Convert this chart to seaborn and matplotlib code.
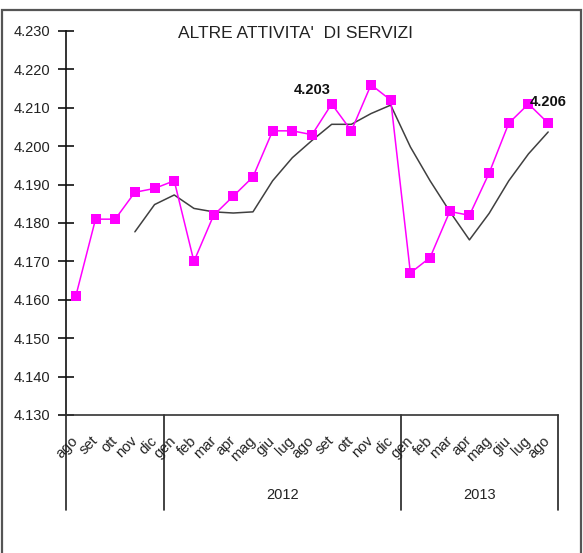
import matplotlib
matplotlib.use("Agg")
import matplotlib.pyplot as plt
import seaborn as sns
import pandas as pd
import numpy as np
from matplotlib.patches import Rectangle

months = ["ago", "set", "ott", "nov", "dic",
          "gen", "feb", "mar", "apr", "mag", "giu", "lug", "ago", "set", "ott", "nov", "dic",
          "gen", "feb", "mar", "apr", "mag", "giu", "lug", "ago"]
monthly = [4.161, 4.181, 4.181, 4.188, 4.189,
           4.191, 4.170, 4.182, 4.187, 4.192, 4.204, 4.204, 4.203, 4.211, 4.204, 4.216, 4.212,
           4.167, 4.171, 4.183, 4.182, 4.193, 4.206, 4.211, 4.206]
trend = [None, None, None, 4.1777, 4.1848,
         4.1873, 4.1838, 4.1829, 4.1826, 4.1829, 4.1910, 4.1970, 4.2015, 4.2057, 4.2057, 4.2085, 4.2107,
         4.1998, 4.1910, 4.1830, 4.1756, 4.1825, 4.1910, 4.1980, 4.2037]
years = ["2012", "2013"]
yticks = [4.130, 4.140, 4.150, 4.160, 4.170, 4.180, 4.190, 4.200, 4.210, 4.220, 4.230]

df = pd.DataFrame({"pos": np.arange(len(months)), "val": monthly,
                   "trend": pd.to_numeric(pd.Series(trend), errors="coerce")})

sns.set_style("white")
plt.rcParams['font.family'] = ['Liberation Sans', 'DejaVu Sans']

fig = plt.figure(figsize=(5.83, 5.53), dpi=100)
ax = fig.add_axes([66/583, 1-415/553, (558-66)/583, (415-31)/553])

sns.lineplot(data=df, x="pos", y="trend", ax=ax, color="#404040", lw=1.1)
sns.lineplot(data=df, x="pos", y="val", ax=ax, color="#ff00ff", lw=1.1,
             marker="s", markersize=7, markeredgewidth=0, markerfacecolor="#ff00ff")

ax.set_xlim(-0.5, len(months) - 0.5)
ax.set_ylim(4.130, 4.230)
ax.set_yticks(yticks)
ax.set_yticklabels([f"{v:.3f}" for v in yticks], color="#222222", fontsize=10.5)
ax.tick_params(axis="y", direction="inout", length=11, width=1.2, pad=6, color="#111111", left=True)
ax.set_xticks(df["pos"])
ax.set_xticklabels(months, rotation=45, ha="right", va="center",
                   rotation_mode="anchor", fontsize=10.5, color="#222222")
ax.tick_params(axis="x", length=0, pad=17)
ax.set_xlabel("")
ax.set_ylabel("")

for s in ["top", "right"]:
    ax.spines[s].set_visible(False)
ax.spines["left"].set_color("#111111")
ax.spines["bottom"].set_color("#333333")
ax.spines["left"].set_linewidth(1.2)
ax.spines["bottom"].set_linewidth(1.2)

# group separators below the axis
for xs in [-0.5, 4.5, 16.5, 24.5]:
    ax.axvline(xs, ymin=-95/384, ymax=0, color="#222222", lw=1.2, clip_on=False)
ax.text(10.5, -0.208, years[0], transform=ax.get_xaxis_transform(),
        ha="center", va="center", fontsize=10.5, color="#222222")
ax.text(20.5, -0.208, years[1], transform=ax.get_xaxis_transform(),
        ha="center", va="center", fontsize=10.5, color="#222222")

ax.annotate(f"{monthly[12]:.3f}", (12, monthly[12]), xytext=(0, 32), textcoords="offset points",
            ha="center", va="center", fontsize=10.5, fontweight="bold", color="#111111")
ax.annotate(f"{monthly[24]:.3f}", (24, monthly[24]), xytext=(0, 15), textcoords="offset points",
            ha="center", va="center", fontsize=10.5, fontweight="bold", color="#111111")

fig.text(295/583, 1-34/553, "ALTRE ATTIVITA'  DI SERVIZI", ha="center", va="center",
         fontsize=12.5, color="#222222")

fig.patches.append(Rectangle((2/583, -0.05), 579/583, 1-10/553+0.05, transform=fig.transFigure,
                             fill=False, edgecolor="#555555", lw=1.6))

fig.savefig("out.png", dpi=100)
